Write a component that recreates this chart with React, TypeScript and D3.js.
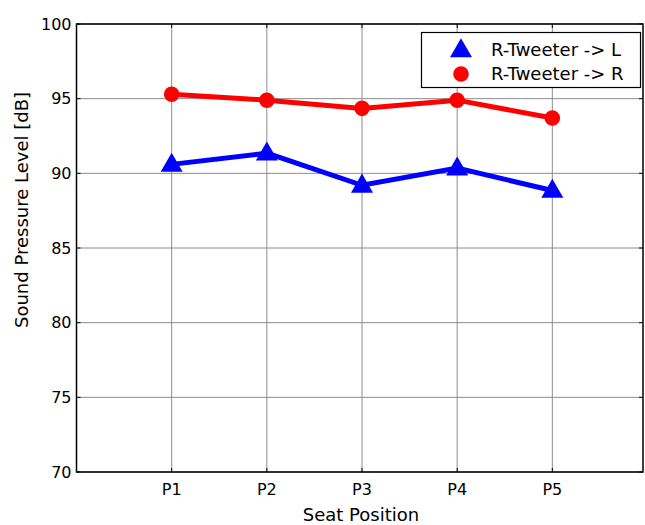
import React from "react";
import * as d3 from "d3";

const positions = ["P1", "P2", "P3", "P4", "P5"];
const tweeterToL = [90.6, 91.35, 89.2, 90.35, 88.85];
const tweeterToR = [95.3, 94.9, 94.35, 94.9, 93.7];
const yTicks = [70, 75, 80, 85, 90, 95, 100];
const seriesNames = ["R-Tweeter -> L", "R-Tweeter -> R"];

export default function App() {
  const ref = React.useRef<SVGSVGElement | null>(null);

  React.useEffect(() => {
    if (!ref.current) return;
    const svg = d3.select(ref.current);
    svg.selectAll("*").remove();
    const font = "'DejaVu Sans', sans-serif";
    const left = 76.5;
    const top = 24;
    const bottom = 472;
    const frameRight = 643;

    const x = d3.scaleLinear().domain([0, 6]).range([left, 647.5]);
    const y = d3.scaleLinear().domain([70, 100]).range([bottom, top]);

    const grid = svg.append("g").attr("stroke", "#8c8c8c").attr("stroke-width", 1);
    positions.forEach((_, i) => {
      grid.append("line").attr("x1", x(i + 1)).attr("x2", x(i + 1)).attr("y1", top).attr("y2", bottom);
    });
    yTicks.forEach(t => {
      grid.append("line").attr("x1", left).attr("x2", frameRight).attr("y1", y(t)).attr("y2", y(t));
    });

    // frame and inward ticks
    const frame = svg.append("g").attr("stroke", "#000").attr("fill", "none");
    frame.append("rect").attr("x", left).attr("y", top).attr("width", frameRight - left).attr("height", bottom - top).attr("stroke-width", 1.5);
    positions.forEach((_, i) => {
      frame.append("line").attr("x1", x(i + 1)).attr("x2", x(i + 1)).attr("y1", bottom).attr("y2", bottom - 4);
      frame.append("line").attr("x1", x(i + 1)).attr("x2", x(i + 1)).attr("y1", top).attr("y2", top + 4);
    });
    yTicks.forEach(t => {
      frame.append("line").attr("x1", left).attr("x2", left + 4).attr("y1", y(t)).attr("y2", y(t));
      frame.append("line").attr("x1", frameRight).attr("x2", frameRight - 4).attr("y1", y(t)).attr("y2", y(t));
    });

    // tick labels
    svg.append("g").selectAll("text").data(yTicks).join("text")
      .attr("x", left - 5).attr("y", d => y(d)).attr("dy", "0.36em")
      .attr("text-anchor", "end").attr("font-family", font).attr("font-size", 16)
      .text(d => d);
    svg.append("g").selectAll("text").data(positions).join("text")
      .attr("x", (_, i) => x(i + 1)).attr("y", 495)
      .attr("text-anchor", "middle").attr("font-family", font).attr("font-size", 16)
      .text(d => d);

    svg.append("text").attr("x", 361).attr("y", 521).attr("text-anchor", "middle")
      .attr("font-family", font).attr("font-size", 18).text("Seat Position");
    svg.append("text").attr("transform", "translate(28,210) rotate(-90)")
      .attr("text-anchor", "middle").attr("font-family", font).attr("font-size", 18)
      .text("Sound Pressure Level [dB]");

    const line = d3.line<number>().x((_, i) => x(i + 1)).y(d => y(d));
    const tri = d3.symbol().type(d3.symbolTriangle).size(210);
    const circ = d3.symbol().type(d3.symbolCircle).size(190);

    svg.append("path").datum(tweeterToR).attr("fill", "none").attr("stroke", "#ff0000")
      .attr("stroke-width", 5).attr("d", line);
    svg.append("g").selectAll("path").data(tweeterToR).join("path")
      .attr("transform", (d, i) => `translate(${x(i + 1)},${y(d)})`)
      .attr("d", circ).attr("fill", "#ff0000");

    svg.append("path").datum(tweeterToL).attr("fill", "none").attr("stroke", "#0000ff")
      .attr("stroke-width", 5).attr("d", line);
    svg.append("g").selectAll("path").data(tweeterToL).join("path")
      .attr("transform", (d, i) => `translate(${x(i + 1)},${y(d) + 1})`)
      .attr("d", tri).attr("fill", "#0000ff");

    // legend
    const lg = svg.append("g");
    lg.append("rect").attr("x", 421.5).attr("y", 32.5).attr("width", 219).attr("height", 55)
      .attr("fill", "#fff").attr("stroke", "#000").attr("stroke-width", 1.2);
    lg.append("path").attr("transform", "translate(461,51)").attr("d", tri).attr("fill", "#0000ff");
    lg.append("path").attr("transform", "translate(461,74)").attr("d", circ).attr("fill", "#ff0000");
    seriesNames.forEach((s, i) => {
      lg.append("text").attr("x", 491).attr("y", 50 + i * 24).attr("dy", "0.36em")
        .attr("font-family", font).attr("font-size", 18).text(s);
    });
  }, []);

  return (
    <svg ref={ref} width={645} height={525}
      style={{ position: "absolute", left: 0, top: 0, background: "#fff" }} />
  );
}
